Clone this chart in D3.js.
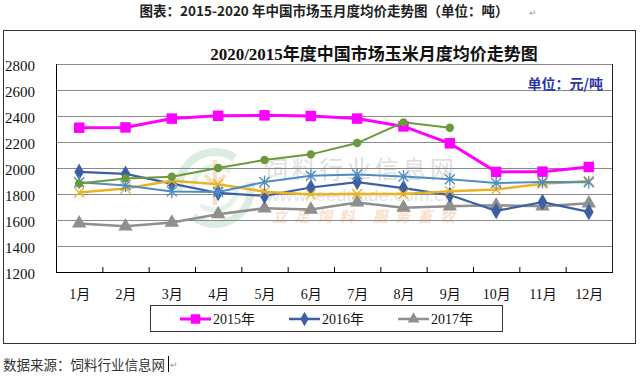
<!DOCTYPE html>
<html><head><meta charset="utf-8">
<script src="https://cdn.jsdelivr.net/npm/d3@7"></script>
<style>
html,body{margin:0;padding:0;background:#fff;}
svg{display:block;}
</style></head>
<body>
<svg id="c" width="640" height="376"></svg>
<script>
const months = ["1月","2月","3月","4月","5月","6月","7月","8月","9月","10月","11月","12月"];
const yTicks = [1200,1400,1600,1800,2000,2200,2400,2600,2800];
const s2015 = [2310,2312,2380,2402,2405,2400,2380,2320,2190,1970,1972,2008];
const s2016 = [1970,1955,1880,1808,1785,1850,1892,1845,1792,1670,1738,1662];
const s2017 = [1574,1552,1580,1645,1690,1680,1735,1695,1705,1713,1705,1728];
const s2018 = [1890,1865,1820,1815,1892,1940,1950,1935,1913,1885,1892,1890];
const s2019 = [1812,1842,1902,1875,1818,1797,1800,1800,1822,1834,1879,1900];
const s2020 = [1880,1920,1933,2000,2062,2105,2192,2351,2310];
const legendNames = ["2015年","2016年","2017年"];

const serif = "'Liberation Serif','Noto Sans CJK SC',serif";
const cjk = "'Noto Sans CJK SC','Noto Sans',sans-serif";

const svg = d3.select("#c");
svg.append("rect").attr("width",640).attr("height",376).attr("fill","#fff");

// header
svg.append("text").attr("x",324).attr("y",16).attr("text-anchor","middle")
  .attr("font-family",cjk).attr("font-weight","bold").attr("font-size",13.5).attr("fill","#222")
  .text("图表：2015-2020 年中国市场玉月度均价走势图（单位：吨）");
svg.append("text").attr("x",529).attr("y",16).attr("font-family",cjk).attr("font-size",9).attr("fill","#999").text("↵");

// outer box
svg.append("rect").attr("x",3.5).attr("y",30.5).attr("width",632).attr("height",313)
  .attr("fill","none").attr("stroke","#333").attr("stroke-width",1);

const L=56,R=612,T=64,B=272;
const x = d3.scalePoint().domain(months).range([L,R]).padding(0.5);
const xb = d3.scaleBand().domain(months).range([L,R]);
const y = d3.scaleLinear().domain([1200,2800]).range([B,T]);

// watermark
const wm = svg.append("g").attr("opacity",0.55);
wm.append("circle").attr("cx",215).attr("cy",188).attr("r",36).attr("fill","none").attr("stroke","#bfe0c8").attr("stroke-width",8).attr("stroke-dasharray","80 30");
wm.append("circle").attr("cx",215).attr("cy",188).attr("r",22).attr("fill","none").attr("stroke","#cfe8d6").attr("stroke-width",5).attr("stroke-dasharray","50 20");
wm.append("path").attr("d","M215,160 L215,205 M205,175 L215,185 L225,175").attr("stroke","#f3c89a").attr("stroke-width",4).attr("fill","none");
wm.append("text").attr("x",264).attr("y",178).attr("font-family",cjk).attr("font-size",24).attr("fill","#c4c4c4").attr("textLength",190).attr("lengthAdjust","spacing").text("饲料行业信息网");
wm.append("text").attr("x",266).attr("y",201).attr("font-family","'Liberation Sans',sans-serif").attr("font-size",17).attr("fill","#cfcfcf").attr("textLength",188).attr("lengthAdjust","spacingAndGlyphs").text("www.feedtrade.com.cn");
wm.append("text").attr("x",272).attr("y",222).attr("font-family",cjk).attr("font-style","italic").attr("font-weight","bold").attr("font-size",15).attr("fill","#f4c9a4").attr("textLength",183).attr("lengthAdjust","spacing").text("立足饲料  服务畜牧");

// gridlines
svg.append("g").selectAll("line").data(yTicks.filter(d=>d>1200)).join("line")
  .attr("x1",L).attr("x2",R).attr("y1",d=>y(d)+0.5).attr("y2",d=>y(d)+0.5)
  .attr("stroke","#8a8a8a").attr("stroke-width",1);
svg.append("line").attr("x1",R+0.5).attr("x2",R+0.5).attr("y1",T).attr("y2",B).attr("stroke","#222");

// axes
const yAxis = d3.axisLeft(y).tickValues(yTicks).tickFormat(d3.format("d")).tickSize(0).tickPadding(0);
const gy = svg.append("g").attr("transform",`translate(${L+0.5},0)`).call(yAxis);
gy.select(".domain").attr("stroke","#000").attr("d",`M0,${T}V${B}`);
gy.selectAll("text").attr("x",5-(L+0.5)).attr("text-anchor","start").attr("dy","0.4em")
  .attr("font-family",serif).attr("font-size",15).attr("fill","#111");

const xAxis = d3.axisBottom(x).tickSize(0).tickPadding(0);
const gx = svg.append("g").attr("transform",`translate(0,${B+0.5})`).call(xAxis);
gx.select(".domain").attr("stroke","#000").attr("d",`M${L},0H${R+1}`);
gx.selectAll("text").attr("y",26).attr("dy",0)
  .attr("font-family",serif).attr("font-size",14).attr("fill","#111");
svg.append("g").selectAll("line").data(months.slice(1)).join("line")
  .attr("x1",d=>xb(d)+0.5).attr("x2",d=>xb(d)+0.5).attr("y1",B).attr("y2",B-5)
  .attr("stroke","#000");

// chart title
svg.append("text").attr("x",374).attr("y",60).attr("text-anchor","middle")
  .attr("font-family",serif).attr("font-weight","bold").attr("font-size",17).attr("fill","#111")
  .text("2020/2015年度中国市场玉米月度均价走势图");
svg.append("text").attr("x",603).attr("y",89).attr("text-anchor","end")
  .attr("font-family",cjk).attr("font-weight","bold").attr("font-size",14).attr("fill","#2a36a8")
  .text("单位：元/吨");

const line = d3.line().x((d,i)=>x(months[i])).y(d=>y(d));

function star(g, cx, cy, r, color, vertical){
  const p = d3.path();
  p.moveTo(cx-r,cy-r); p.lineTo(cx+r,cy+r);
  p.moveTo(cx-r,cy+r); p.lineTo(cx+r,cy-r);
  if(vertical){ p.moveTo(cx,cy-r*1.3); p.lineTo(cx,cy+r*1.3); }
  g.append("path").attr("d",p.toString()).attr("stroke",color).attr("stroke-width",1.3).attr("fill","none");
}

const series = [
  {data:s2017,color:"#8f8f8f",w:2.5,mk:"tri"},
  {data:s2016,color:"#3d5fa6",w:2.2,mk:"dia"},
  {data:s2019,color:"#e9b323",w:2.5,mk:"x"},
  {data:s2018,color:"#4f8cc0",w:2,mk:"ast"},
  {data:s2015,color:"#ff00ff",w:3,mk:"sq"},
  {data:s2020,color:"#6a9a3a",w:2,mk:"cir"}
];
series.forEach(s=>{
  const g = svg.append("g");
  g.append("path").attr("d",line(s.data)).attr("fill","none").attr("stroke",s.color).attr("stroke-width",s.w);
  s.data.forEach((v,i)=>{
    const cx=x(months[i]), cy=y(v);
    if(s.mk==="sq") g.append("path").attr("d",d3.symbol(d3.symbolSquare,110)()).attr("transform",`translate(${cx},${cy})`).attr("fill",s.color);
    else if(s.mk==="dia") g.append("path").attr("d",d3.symbol(d3.symbolDiamond,80)()).attr("transform",`translate(${cx},${cy})`).attr("fill",s.color);
    else if(s.mk==="tri") g.append("path").attr("d",d3.symbol(d3.symbolTriangle,90)()).attr("transform",`translate(${cx},${cy})`).attr("fill",s.color);
    else if(s.mk==="cir") g.append("circle").attr("cx",cx).attr("cy",cy).attr("r",4.2).attr("fill",s.color);
    else if(s.mk==="x") star(g,cx,cy,5,s.color,false);
    else if(s.mk==="ast") star(g,cx,cy,5,s.color,true);
  });
});

// legend
svg.append("rect").attr("x",150.5).attr("y",305.5).attr("width",352).attr("height",26)
  .attr("fill","#fff").attr("stroke","#333");
const legItems = [
  {name:legendNames[0],color:"#ff00ff",mk:"sq",x0:180},
  {name:legendNames[1],color:"#3d5fa6",mk:"dia",x0:289},
  {name:legendNames[2],color:"#8f8f8f",mk:"tri",x0:398}
];
legItems.forEach(it=>{
  const ly=319;
  svg.append("line").attr("x1",it.x0).attr("x2",it.x0+31).attr("y1",ly).attr("y2",ly).attr("stroke",it.color).attr("stroke-width",it.mk==="sq"?3:2.5);
  const sym = it.mk==="sq"?d3.symbolSquare:it.mk==="dia"?d3.symbolDiamond:d3.symbolTriangle;
  svg.append("path").attr("d",d3.symbol(sym,it.mk==="sq"?90:60)()).attr("transform",`translate(${it.x0+15.5},${ly})`).attr("fill",it.color);
  svg.append("text").attr("x",it.x0+33).attr("y",ly+5).attr("font-family",serif).attr("font-size",14).attr("fill","#111").text(it.name);
});

// source
svg.append("text").attr("x",3).attr("y",370).attr("font-family",cjk).attr("font-size",13.5).attr("fill","#333")
  .text("数据来源：饲料行业信息网");
svg.append("line").attr("x1",168.5).attr("x2",168.5).attr("y1",356).attr("y2",372).attr("stroke","#000");
svg.append("text").attr("x",170).attr("y",368).attr("font-family",cjk).attr("font-size",9).attr("fill","#999").text("↵");
</script>
</body></html>
